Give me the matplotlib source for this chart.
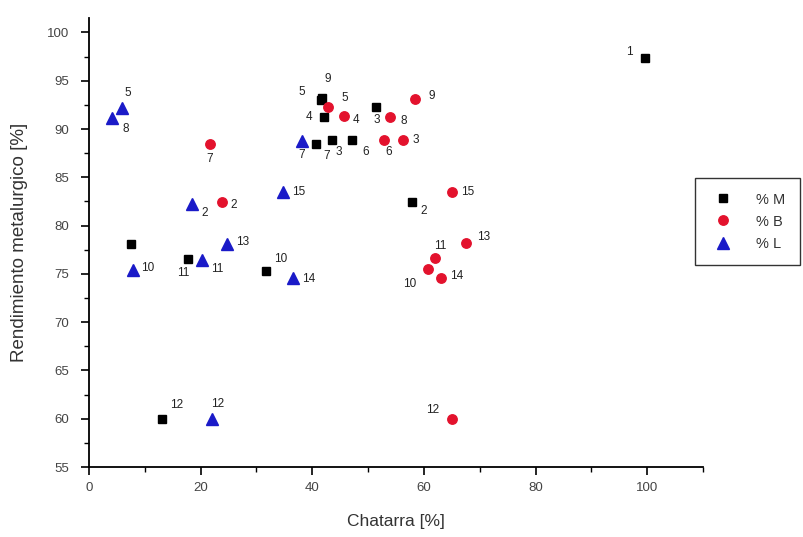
import matplotlib
matplotlib.use("Agg")
import matplotlib.pyplot as plt
from matplotlib.ticker import MultipleLocator

plt.rcParams['font.family'] = ['Liberation Sans', 'DejaVu Sans']

# ---- data ----
m_x = [99.6, 57.9, 43.6, 51.5, 42.1, 41.6, 47.1, 40.7, 41.8, 31.7, 17.8, 13.1, 7.6]
m_y = [97.4, 82.4, 88.9, 92.3, 91.2, 93.0, 88.9, 88.5, 93.2, 75.3, 76.5, 60.0, 78.1]
m_lab = ["1", "2", "3", "3", "4", "5", "6", "7", "9", "10", "11", "12", ""]

b_x = [23.8, 56.3, 45.6, 42.9, 52.9, 21.7, 54.0, 58.4, 60.7, 62.0, 65.0, 67.6, 63.1, 65.0]
b_y = [82.4, 88.9, 91.3, 92.3, 88.9, 88.4, 91.2, 93.1, 75.5, 76.6, 60.0, 78.2, 74.6, 83.5]
b_lab = ["2", "3", "4", "5", "6", "7", "8", "9", "10", "11", "12", "13", "14", "15"]

l_x = [18.5, 5.9, 38.1, 4.2, 7.8, 20.2, 22.0, 24.7, 36.5, 34.8]
l_y = [82.2, 92.2, 88.8, 91.1, 75.4, 76.4, 60.0, 78.1, 74.6, 83.5]
l_lab = ["2", "5", "7", "8", "10", "11", "12", "13", "14", "15"]

series_names = ["% M", "% B", "% L"]
x_ticks = [0, 20, 40, 60, 80, 100]
y_ticks = [55, 60, 65, 70, 75, 80, 85, 90, 95, 100]

# label offsets in pixels (dx right, dy up), styling only
m_off = [(-12, 6), (8, -9), (6, -12), (0, -13), (-12, 0), (-16, 8), (10, -12), (7, -12), (5, 19), (8, 12), (-5, -14), (8, 14), (0, 0)]
b_off = [(9, -3), (9, 0), (9, -4), (13, 9), (4, -12), (0, -15), (10, -4), (14, 3), (-12, -15), (5, 12), (-13, 9), (11, 6), (9, 2), (9, 0)]
l_off = [(9, -9), (6, 15), (0, -14), (10, -11), (9, 2), (9, -9), (6, 15), (9, 2), (9, -1), (9, 0)]

fig = plt.figure(figsize=(8.04, 5.37), dpi=100)
ax = fig.add_axes([89/804, 1-467/537, (703-89)/804, (467-18)/537])

red = '#e3122d'
blue = '#1a1ac8'
ax.plot(m_x, m_y, 's', color='black', markersize=6.4, linestyle='none', label=series_names[0], zorder=3)
ax.plot(b_x, b_y, 'o', color=red, markersize=6.8, linestyle='none', label=series_names[1], zorder=3)
ax.plot(l_x, l_y, '^', color=blue, markersize=8.5, linestyle='none', label=series_names[2], zorder=3)

def annotate(xs, ys, labs, offs):
    for x, y, t, (dx, dy) in zip(xs, ys, labs, offs):
        if not t:
            continue
        ha = 'left' if dx > 6 else ('right' if dx < -6 else 'center')
        ax.annotate(t, (x, y), xytext=(dx, dy), textcoords='offset pixels',
                    ha=ha, va='center', fontsize=8.5, color='#222222', zorder=4)

annotate(m_x, m_y, m_lab, m_off)
annotate(b_x, b_y, b_lab, b_off)
annotate(l_x, l_y, l_lab, l_off)

ax.set_xlim(0, 110)
ax.set_ylim(55, 101.5)
ax.set_xticks(x_ticks)
ax.set_yticks(y_ticks)
ax.xaxis.set_minor_locator(MultipleLocator(10))
ax.yaxis.set_minor_locator(MultipleLocator(2.5))
for s in ['top', 'right']:
    ax.spines[s].set_visible(False)
for s in ['left', 'bottom']:
    ax.spines[s].set_linewidth(1.3)
ax.tick_params(which='major', direction='out', length=6, width=1.2, labelsize=9.5, labelcolor='#444444', pad=5)
ax.tick_params(axis='y', which='major', pad=8)
ax.tick_params(which='minor', direction='out', length=3.5, width=1.0)

ax.set_xlabel("Chatarra [%]", fontsize=12.5, color='#333333', labelpad=14)
ax.set_ylabel("Rendimiento metalurgico [%]", fontsize=13.5, color='#333333', labelpad=14)

leg = ax.legend(loc='upper left', bbox_to_anchor=(695/804, 1-178/537), bbox_transform=fig.transFigure,
                frameon=True, fancybox=False, edgecolor='black', fontsize=10.5, handletextpad=1.4,
                borderpad=1.0, labelspacing=0.55, borderaxespad=0, handlelength=1.8)
leg.get_frame().set_linewidth(1.0)
for t in leg.get_texts():
    t.set_color('#333333')

fig.savefig("out.png", dpi=100)
